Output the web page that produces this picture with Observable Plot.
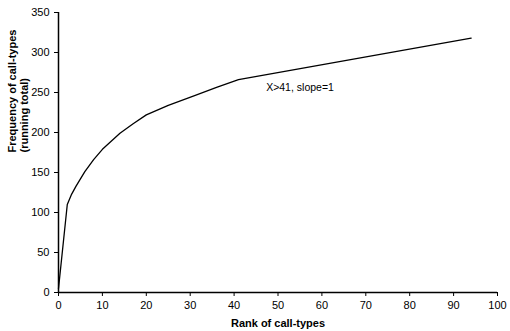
<!DOCTYPE html>
<html><head><meta charset="utf-8">
<script src="https://cdn.jsdelivr.net/npm/d3@7"></script>
<script src="https://cdn.jsdelivr.net/npm/@observablehq/plot@0.6"></script>
<style>body{margin:0;background:#fff;} svg{font-family:Arial,"Liberation Sans",sans-serif;}</style>
</head><body><div id="chart"></div>
<script>
const rank = [0, 2, 3, 4, 5, 6, 8, 10, 12, 14, 17, 20, 25, 31, 36, 41, 94];
const freq = [5, 110, 123, 133, 142, 151, 166, 179, 189, 199, 211, 222, 234, 246, 256.5, 266, 318];
const xTicks = [0,10,20,30,40,50,60,70,80,90,100];
const yTicks = [0,50,100,150,200,250,300,350];
const note = {x: 47.3, y: 256, text: "X>41, slope=1"};

const data = rank.map((r,i)=>({rank:r, freq:freq[i]}));
const chart = Plot.plot({
  width: 510, height: 331,
  marginLeft: 58, marginRight: 13, marginTop: 12, marginBottom: 39,
  style: {fontFamily: "Arial, 'Liberation Sans', sans-serif", fontSize: "11px", color: "#000", background: "#fff"},
  x: {domain: [0, 100]},
  y: {domain: [0, 350]},
  marks: [
    Plot.axisX({ticks: xTicks, tickSize: 4, fontSize: 11, label: "Rank of call-types", labelAnchor: "center", labelOffset: 34, labelArrow: "none"}),
    Plot.axisY({ticks: yTicks, tickSize: 4, fontSize: 11, label: null}),
    Plot.text(["Frequency of call-types\n(running total)"], {frameAnchor: "left", rotate: -90, dx: -40, fontWeight: "bold", fontSize: 11, lineHeight: 1.1}),
    Plot.ruleY([0], {strokeWidth: 1.5}),
    Plot.ruleX([0], {strokeWidth: 1.5}),
    Plot.line(data, {x: "rank", y: "freq", curve: "linear", stroke: "#000", strokeWidth: 1.3}),
    Plot.text([note], {x: "x", y: "y", text: "text", textAnchor: "start", fontSize: 10.5})
  ]
});
document.getElementById("chart").appendChild(chart);
chart.querySelectorAll("g[aria-label='x-axis label'] text").forEach(t=>t.setAttribute("font-weight","bold"));
</script>
</body></html>
